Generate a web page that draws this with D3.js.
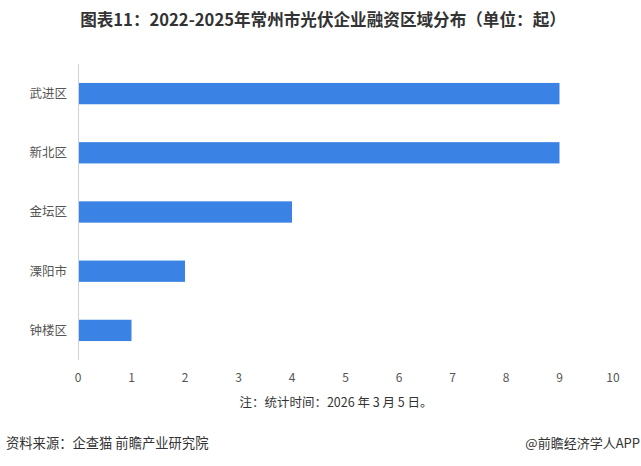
<!DOCTYPE html>
<html><head><meta charset="utf-8">
<script src="https://cdn.jsdelivr.net/npm/d3@7"></script>
<style>body{margin:0;background:#fff;}svg{display:block;font-family:"Noto Sans CJK SC","Noto Sans",sans-serif;}</style>
</head><body>
<svg id="c" width="641" height="466"></svg>
<script>
const categories = ["武进区","新北区","金坛区","溧阳市","钟楼区"];
const values = [9, 9, 4, 2, 1];
const xTicks = [0,1,2,3,4,5,6,7,8,9,10];
const title = "图表11：2022-2025年常州市光伏企业融资区域分布（单位：起）";
const note = "注：统计时间：2026 年 3 月 5 日。";
const source = "资料来源：企查猫 前瞻产业研究院";
const credit = "@前瞻经济学人APP";

const svg = d3.select("#c");
const x = d3.scaleLinear().domain([0,10]).range([78,613]);
const y = d3.scaleBand().domain(categories).range([64,360]).paddingInner(0.64).paddingOuter(0.32);

svg.append("text").attr("x",323).attr("y",26).attr("text-anchor","middle")
  .attr("font-size",16.6).attr("font-weight","bold").attr("fill","#333").text(title);

svg.append("line").attr("x1",78.5).attr("x2",78.5).attr("y1",64).attr("y2",360)
  .attr("stroke","#ccd3dc").attr("stroke-width",1);

svg.selectAll("rect.bar").data(values).join("rect").attr("class","bar")
  .attr("x",x(0)+1).attr("y",(d,i)=>y(categories[i]))
  .attr("width",d=>x(d)-x(0)-1).attr("height",y.bandwidth())
  .attr("fill","#3a83e4");

svg.selectAll("text.cat").data(categories).join("text").attr("class","cat")
  .attr("x",67).attr("y",d=>y(d)+y.bandwidth()/2).attr("dy","0.35em")
  .attr("text-anchor","end").attr("font-size",12.5).attr("fill","#555").text(d=>d);

svg.selectAll("text.tick").data(xTicks).join("text").attr("class","tick")
  .attr("x",d=>x(d)).attr("y",378).attr("dy","0.35em")
  .attr("text-anchor","middle").attr("font-size",12).attr("fill","#555").text(d=>d);

svg.append("text").attr("x",336).attr("y",403).attr("dy","0.35em").attr("text-anchor","middle")
  .attr("font-size",12.5).attr("fill","#333").text(note);

svg.append("text").attr("x",6).attr("y",443).attr("dy","0.35em")
  .attr("font-size",13.3).attr("fill","#333").text(source);
svg.append("text").attr("x",640).attr("y",443).attr("dy","0.35em").attr("text-anchor","end")
  .attr("font-size",13).attr("fill","#333").text(credit);
</script>
</body></html>
